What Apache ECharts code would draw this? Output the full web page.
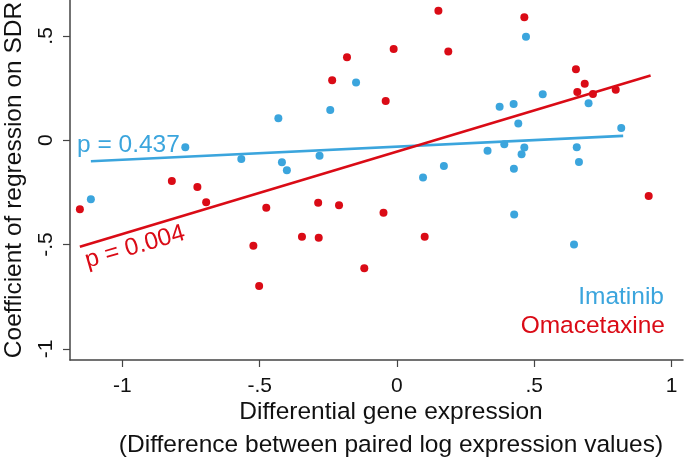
<!DOCTYPE html>
<html>
<head>
<meta charset="utf-8">
<script src="https://cdn.jsdelivr.net/npm/echarts@6/dist/echarts.min.js"></script>
<style>
  html, body { margin: 0; padding: 0; background: #fff; }
  #chart { width: 685px; height: 464px; }
</style>
</head>
<body>
<div id="chart"></div>
<script>
// points: [differential expression, coefficient]
const imatinib = [
  [-1.115, -0.283], [-0.771, -0.034], [-0.567, -0.090], [-0.432, 0.105],
  [-0.419, -0.105], [-0.401, -0.144], [-0.282, -0.074], [-0.243, 0.145],
  [-0.149, 0.277], [0.095, -0.179], [0.171, -0.123], [0.330, -0.050],
  [0.374, 0.160], [0.391, -0.019], [0.425, 0.174], [0.426, -0.136],
  [0.427, -0.356], [0.442, 0.080], [0.454, -0.067], [0.464, -0.035],
  [0.470, 0.496], [0.531, 0.220], [0.645, -0.500], [0.655, -0.034],
  [0.663, -0.104], [0.698, 0.177], [0.817, 0.059]
];
const omacetaxine = [
  [-1.155, -0.331], [-0.820, -0.195], [-0.727, -0.224], [-0.695, -0.297],
  [-0.523, -0.506], [-0.502, -0.698], [-0.476, -0.323], [-0.346, -0.462],
  [-0.287, -0.299], [-0.285, -0.467], [-0.236, 0.287], [-0.211, -0.311],
  [-0.182, 0.398], [-0.119, -0.613], [-0.049, -0.348], [-0.041, 0.188],
  [-0.012, 0.437], [0.101, -0.463], [0.151, 0.620], [0.187, 0.425],
  [0.464, 0.589], [0.652, 0.340], [0.657, 0.231], [0.684, 0.271],
  [0.714, 0.222], [0.797, 0.242], [0.917, -0.267]
];
// fitted line end points
const imatinibFit = [[-1.115, -0.101], [0.824, 0.021]];
const omacetaxineFit = [[-1.155, -0.510], [0.924, 0.310]];

const xTicks = [-1, -0.5, 0, 0.5, 1];
const yTicks = [-1, -0.5, 0, 0.5];
const pLabels = ["p = 0.437", "p = 0.004"];
const seriesNames = ["Imatinib", "Omacetaxine"];

const BLUE = "#3ba5dd";
const RED = "#da0b16";
const FONT = "Liberation Sans";
const INK = "#111";

// Stata style: drop leading zero
function tickText(v) {
  if (v === 0) return "0";
  return String(v).replace("0.", ".");
}

function note(text, x, y, color, align, extra) {
  return Object.assign({
    type: "text", x: x, y: y,
    style: { text: text, align: align, verticalAlign: "middle",
      fontSize: 24.5, fontFamily: FONT, fill: color },
  }, extra || {});
}

const chart = echarts.init(document.getElementById("chart"));
const option = {
  animation: false,
  grid: { left: 70, right: 2, top: 0, bottom: 104, outerBoundsMode: "none", containLabel: false },
  xAxis: {
    type: "value",
    min: -1.191,
    max: 1.042,
    splitLine: { show: false },
    axisLine: { onZero: false, lineStyle: { color: "#444", width: 1.5 } },
    axisTick: { customValues: xTicks, length: 7, lineStyle: { color: "#444", width: 1.2 } },
    axisLabel: {
      customValues: xTicks,
      formatter: tickText,
      margin: 16,
      fontSize: 21,
      fontFamily: FONT,
      color: INK,
    },
  },
  yAxis: {
    type: "value",
    min: -1.053,
    max: 0.672,
    splitLine: { show: false },
    axisLine: { show: true, onZero: false, lineStyle: { color: "#444", width: 1.5 } },
    axisTick: { show: true, customValues: yTicks, length: 7, lineStyle: { color: "#444", width: 1.2 } },
    axisLabel: {
      customValues: yTicks,
      formatter: tickText,
      rotate: 90,
      margin: 13,
      fontSize: 21,
      fontFamily: FONT,
      color: INK,
    },
    name: "Coefficient of regression on SDR",
    nameLocation: "middle",
    nameGap: 43,
    nameTextStyle: { fontSize: 24.5, fontFamily: FONT, color: INK },
  },
  graphic: [
    note("Differential gene expression", 391, 412, INK, "center"),
    note("(Difference between paired log expression values)", 391, 445, INK, "center"),
    note(pLabels[0], 77, 145, BLUE, "left"),
    note(pLabels[1], 135, 247, RED, "center", { rotation: 16 * Math.PI / 180 }),
    note(seriesNames[0], 664, 297, BLUE, "right"),
    note(seriesNames[1], 665, 326, RED, "right"),
  ],
  series: [
    {
      name: seriesNames[0],
      type: "scatter",
      data: imatinib,
      symbolSize: 8,
      itemStyle: { color: BLUE, opacity: 1 },
    },
    {
      name: seriesNames[1],
      type: "scatter",
      data: omacetaxine,
      symbolSize: 8,
      itemStyle: { color: RED, opacity: 1 },
    },
    {
      type: "line",
      data: imatinibFit,
      showSymbol: false,
      lineStyle: { color: BLUE, width: 2.6 },
    },
    {
      type: "line",
      data: omacetaxineFit,
      showSymbol: false,
      lineStyle: { color: RED, width: 2.6 },
    },
  ],
};
chart.setOption(option);
</script>
</body>
</html>
